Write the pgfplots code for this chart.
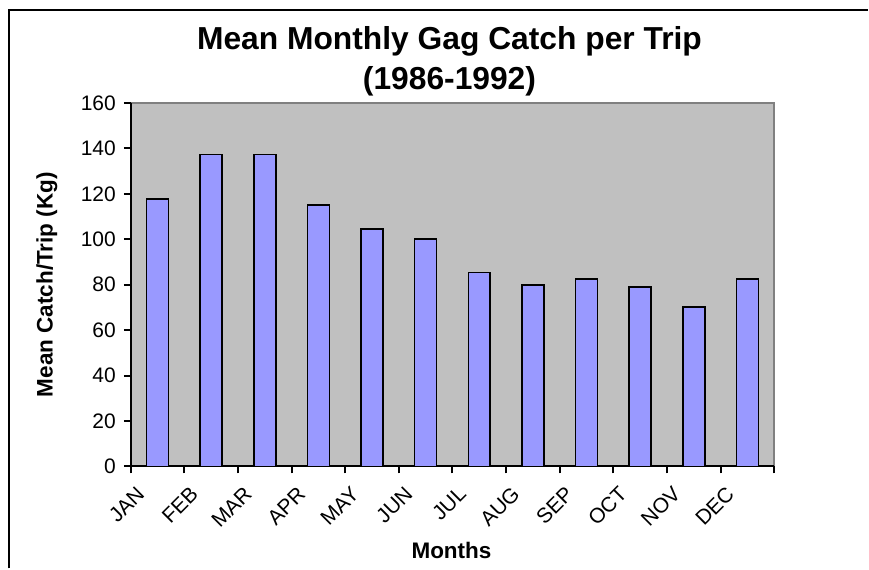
\documentclass[border=0pt]{standalone}
\usepackage{fontspec}
\setmainfont{Liberation Sans}
\usepackage{pgfplots}
\pgfplotsset{compat=1.18}
\definecolor{plotbg}{HTML}{C0C0C0}
\definecolor{barfill}{HTML}{9999FF}
\definecolor{frameg}{HTML}{808080}
\begin{document}
\begin{tikzpicture}
\path (0pt,0pt) rectangle (434.5pt,284.5pt);
\draw[line width=1pt] (4.5pt,0pt) -- (4.5pt,279.5pt) -- (434.5pt,279.5pt);
\begin{axis}[
  at={(65.5pt,51pt)}, anchor=south west,
  scale only axis, width=322pt, height=182pt,
  xmin=0.5, xmax=12.5, ymin=0, ymax=160,
  ytick={0,20,...,160},
  xtick={1,...,12},
  xticklabels={JAN,FEB,MAR,APR,MAY,JUN,JUL,AUG,SEP,OCT,NOV,DEC},
  minor xtick={0.5,1.5,...,12.5},
  major x tick style={draw=none},
  tick align=outside,
  major tick length=3.5pt, minor tick length=3.5pt,
  tick style={black, line width=1pt},
  axis x line*=bottom, axis y line*=left,
  axis line style={-, black, line width=1pt},
  axis background/.style={fill=plotbg, draw=frameg, line width=1pt},
  tick label style={font=\fontsize{10.5}{12}\selectfont},
  /pgf/number format/assume math mode=true,
  yticklabel style={xshift=-0.5pt},
  xticklabel style={xshift=-6pt, yshift=-6pt, rotate=45, anchor=east},
  ybar, bar width=11pt,
  clip=false,
]
\addplot[fill=barfill, draw=black, line width=0.8pt] coordinates {
  (1,117.7) (2,137.3) (3,137.3) (4,115.0) (5,104.5) (6,100.0)
  (7,85.3) (8,79.8) (9,82.5) (10,79.0) (11,70.2) (12,82.5)
};
\end{axis}
\node[anchor=base, font=\bfseries\fontsize{15.9}{18}\selectfont] at (225pt,259.5pt) {Mean Monthly Gag Catch per Trip};
\node[anchor=base, font=\bfseries\fontsize{15.9}{18}\selectfont] at (225pt,239.5pt) {(1986-1992)};
\node[rotate=90, font=\bfseries\fontsize{11.25}{13}\selectfont] at (23.5pt,142pt) {Mean Catch/Trip (Kg)};
\node[font=\bfseries\fontsize{11.25}{13}\selectfont] at (226pt,9pt) {Months};
\end{tikzpicture}
\end{document}
